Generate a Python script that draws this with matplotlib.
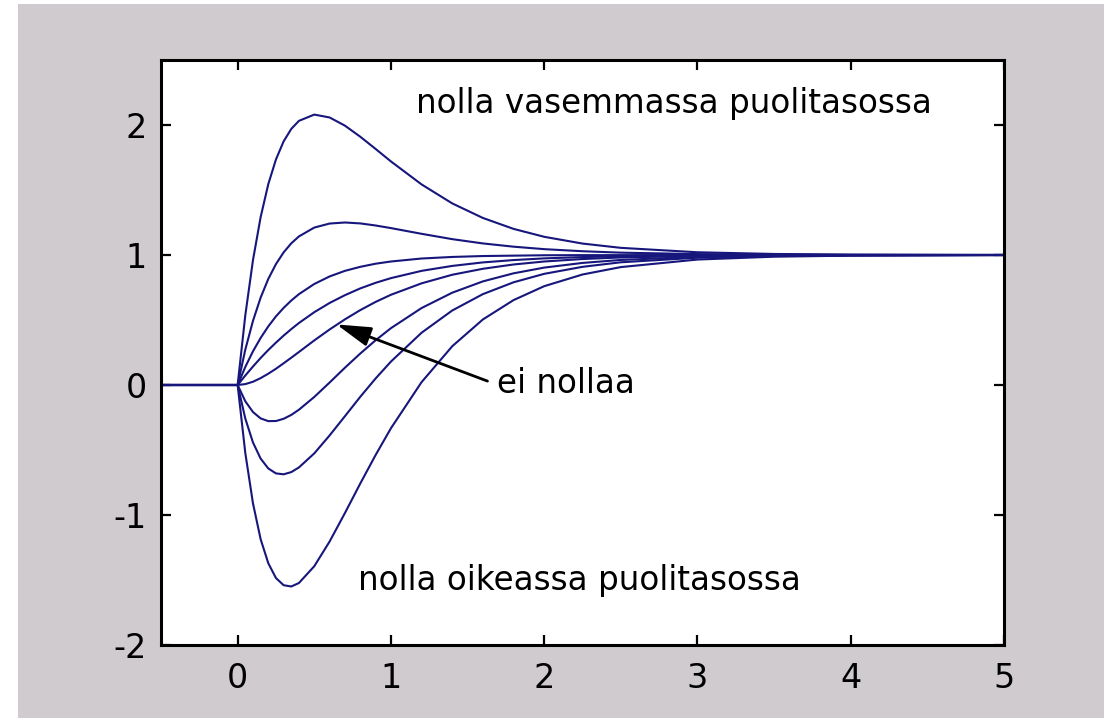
import matplotlib
matplotlib.use("Agg")
import matplotlib.pyplot as plt
from matplotlib.patches import Rectangle

# step responses of 6/((s+2)(s+3)) with an added zero, sampled at these times
time = [-0.5, 0.0, 0.05, 0.1, 0.15, 0.2, 0.25, 0.3, 0.35, 0.4, 0.5, 0.6, 0.7,
        0.8, 0.9, 1.0, 1.2, 1.4, 1.6, 1.8, 2.0, 2.25, 2.5, 3.0, 3.5, 4.0, 5.0]

# zero in the left half plane
zero_at_m05 = [0, 0, 0.536, 0.960, 1.291, 1.545, 1.735, 1.874, 1.970, 2.032, 2.080,
               2.058, 1.995, 1.910, 1.816, 1.720, 1.543, 1.397, 1.285, 1.201, 1.140,
               1.088, 1.055, 1.021, 1.008, 1.003, 1.0]
zero_at_m1 = [0, 0, 0.272, 0.493, 0.672, 0.816, 0.930, 1.020, 1.090, 1.143, 1.211,
              1.242, 1.250, 1.243, 1.227, 1.207, 1.163, 1.122, 1.089, 1.064, 1.045,
              1.029, 1.018, 1.007, 1.003, 1.001, 1.0]
zero_at_m2 = [0, 0, 0.139, 0.259, 0.362, 0.451, 0.528, 0.593, 0.650, 0.699, 0.777,
              0.835, 0.878, 0.909, 0.933, 0.950, 0.973, 0.985, 0.992, 0.995, 0.998,
              0.999, 0.999, 1.0, 1.0, 1.0, 1.0]
zero_at_m4 = [0, 0, 0.073, 0.142, 0.208, 0.269, 0.326, 0.380, 0.430, 0.477, 0.560,
              0.631, 0.691, 0.743, 0.786, 0.822, 0.878, 0.916, 0.943, 0.961, 0.974,
              0.984, 0.990, 0.996, 0.999, 1.0, 1.0]
# no zero
no_zero = [0, 0, 0.007, 0.025, 0.053, 0.087, 0.125, 0.167, 0.210, 0.254, 0.343,
           0.427, 0.505, 0.576, 0.639, 0.694, 0.782, 0.848, 0.894, 0.927, 0.950,
           0.969, 0.981, 0.993, 0.997, 0.999, 1.0]
# zero in the right half plane
zero_at_p2 = [0, 0, -0.125, -0.208, -0.257, -0.278, -0.277, -0.260, -0.230, -0.190,
              -0.092, 0.019, 0.133, 0.242, 0.344, 0.437, 0.592, 0.710, 0.797, 0.859,
              0.903, 0.939, 0.962, 0.986, 0.995, 0.998, 1.0]
zero_at_p1 = [0, 0, -0.258, -0.442, -0.566, -0.642, -0.680, -0.687, -0.670, -0.634,
              -0.526, -0.388, -0.240, -0.091, 0.050, 0.180, 0.402, 0.573, 0.699, 0.790,
              0.855, 0.909, 0.944, 0.979, 0.992, 0.997, 1.0]
zero_at_p05 = [0, 0, -0.523, -0.910, -1.186, -1.371, -1.485, -1.540, -1.550, -1.523,
               -1.394, -1.204, -0.985, -0.758, -0.539, -0.333, 0.022, 0.298, 0.504,
               0.653, 0.760, 0.850, 0.907, 0.965, 0.987, 0.995, 1.0]

responses = [zero_at_m05, zero_at_m1, zero_at_m2, zero_at_m4, no_zero,
             zero_at_p2, zero_at_p1, zero_at_p05]

x_ticks = [0, 1, 2, 3, 4, 5]
y_ticks = [-2, -1, 0, 1, 2]

BG = "#cfcbcf"
LINE = "#16167c"

plt.rcParams["font.family"] = ["DejaVu Sans"]

fig = plt.figure(figsize=(11.04, 7.18), dpi=100, facecolor="white")
fig.patches.append(Rectangle((18 / 1104, 0), 1, 1 - 4 / 718, transform=fig.transFigure,
                             facecolor=BG, edgecolor="none", zorder=-10))

ax = fig.add_axes([161 / 1104, 1 - 645 / 718, (1004 - 161) / 1104, (645 - 60) / 718])
ax.set_facecolor("white")

for resp in responses:
    ax.plot(time, resp, color=LINE, linewidth=1.5)

ax.set_xlim(-0.5, 5)
ax.set_ylim(-2, 2.5)
ax.set_xticks(x_ticks)
ax.set_yticks(y_ticks)
ax.set_xticklabels([str(v) for v in x_ticks])
ax.set_yticklabels([str(v) for v in y_ticks])
ax.tick_params(direction="in", length=7, width=1.6, top=True, right=True,
               labelsize=24, colors="black")
ax.tick_params(axis="x", pad=12)
ax.tick_params(axis="y", pad=10)
for sp in ax.spines.values():
    sp.set_linewidth(2.2)
    sp.set_color("black")

ax.text(1.165, 2.092, "nolla vasemmassa puolitasossa", fontsize=23.5,
        ha="left", va="baseline")
ax.text(0.788, -1.58, "nolla oikeassa puolitasossa", fontsize=23.5,
        ha="left", va="baseline")
ax.text(1.69, -0.06, "ei nollaa", fontsize=23.5, ha="left", va="baseline")
ax.annotate("", xy=(0.645, 0.466), xytext=(1.63, 0.03),
            arrowprops=dict(arrowstyle="-|>,head_length=0.7,head_width=0.2",
                            mutation_scale=30, color="black", lw=2,
                            shrinkA=0, shrinkB=0))

fig.savefig("out.png", dpi=100, facecolor=fig.get_facecolor())
